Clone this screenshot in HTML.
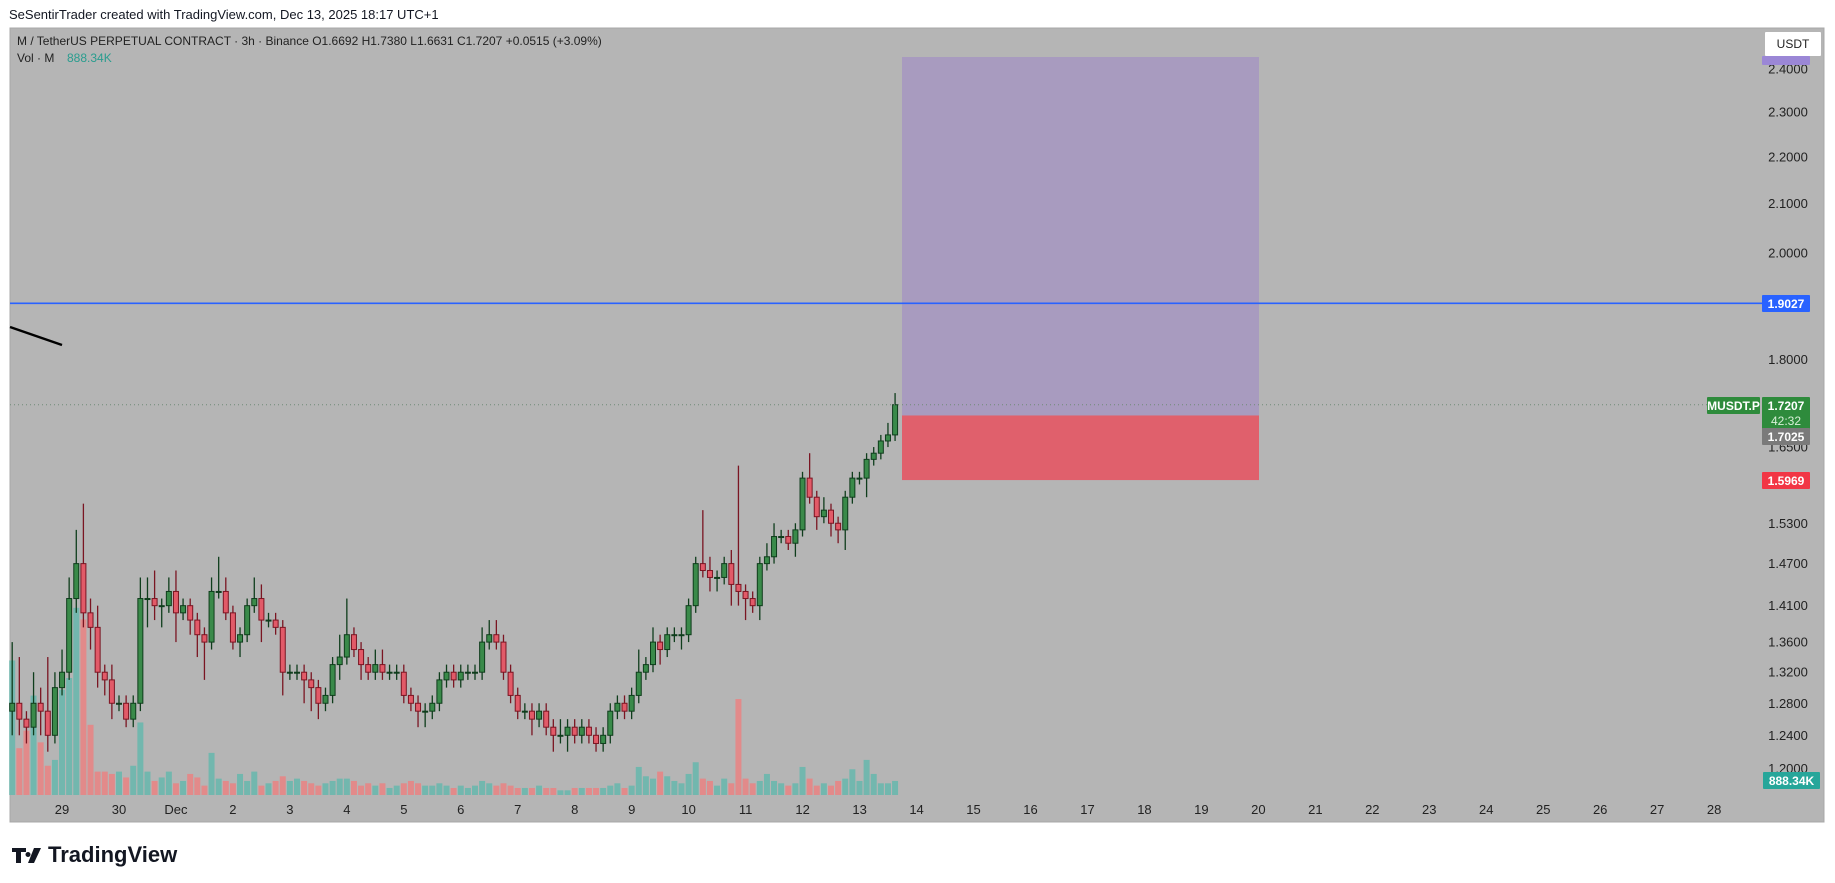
<!DOCTYPE html>
<html><head><meta charset="utf-8"><style>
body{margin:0;width:1835px;height:883px;background:#fff;overflow:hidden;font-family:"Liberation Sans",sans-serif;}
svg{position:absolute;left:0;top:0}
</style></head><body>
<svg id="c" width="1835" height="883"></svg>
<script>
const closes=[1.28,1.26,1.25,1.28,1.27,1.24,1.30,1.32,1.42,1.47,1.40,1.38,1.32,1.31,1.28,1.28,1.26,1.28,1.42,1.42,1.41,1.41,1.43,1.40,1.41,1.39,1.37,1.36,1.43,1.43,1.40,1.36,1.37,1.41,1.42,1.39,1.39,1.38,1.32,1.32,1.32,1.31,1.30,1.28,1.29,1.33,1.34,1.37,1.35,1.33,1.32,1.33,1.32,1.32,1.32,1.29,1.28,1.27,1.27,1.28,1.31,1.32,1.31,1.32,1.32,1.32,1.36,1.37,1.36,1.32,1.29,1.27,1.27,1.26,1.27,1.25,1.24,1.24,1.25,1.24,1.25,1.24,1.23,1.24,1.27,1.28,1.27,1.29,1.32,1.33,1.36,1.35,1.37,1.37,1.37,1.41,1.47,1.46,1.45,1.45,1.47,1.44,1.43,1.42,1.41,1.47,1.48,1.51,1.51,1.50,1.52,1.60,1.57,1.54,1.55,1.53,1.52,1.57,1.60,1.60,1.63,1.64,1.66,1.67,1.7207];
const highExtra=[0.08,0.06,0.01,0.04,0.02,0.07,0.02,0.03,0.03,0.05,0.09,0.02,0.03,0.01,0.02,0.01,0.01,0.01,0.03,0.03,0.04,0.01,0.02,0.03,0.01,0.01,0.01,0.01,0.02,0.05,0.02,0.01,0.01,0.01,0.03,0.02,0.01,0.01,0.01,0.01,0.01,0.01,0.01,0.01,0.01,0.01,0.03,0.05,0.01,0.01,0.01,0.02,0.02,0.01,0.01,0.01,0.01,0.01,0.01,0.01,0.01,0.01,0.01,0.01,0.01,0.01,0.02,0.02,0.02,0.01,0.01,0.01,0.01,0.01,0.01,0.01,0.01,0.02,0.01,0.01,0.01,0.01,0.01,0.01,0.01,0.01,0.01,0.01,0.03,0.01,0.02,0.01,0.01,0.01,0.01,0.01,0.01,0.08,0.02,0.01,0.01,0.02,0.18,0.01,0.01,0.01,0.02,0.02,0.01,0.01,0.01,0.01,0.04,0.01,0.02,0.01,0.01,0.01,0.01,0.01,0.01,0.01,0.01,0.02,0.02];
const lowExtra=[0.03,0.02,0.02,0.01,0.03,0.02,0.01,0.01,0.01,0.02,0.02,0.03,0.02,0.02,0.02,0.01,0.01,0.01,0.01,0.04,0.02,0.03,0.01,0.04,0.01,0.02,0.03,0.05,0.01,0.01,0.01,0.01,0.02,0.01,0.01,0.03,0.01,0.01,0.03,0.01,0.01,0.03,0.03,0.02,0.01,0.01,0.02,0.01,0.01,0.02,0.01,0.01,0.01,0.01,0.01,0.01,0.01,0.02,0.02,0.01,0.01,0.01,0.01,0.01,0.01,0.01,0.01,0.01,0.01,0.01,0.01,0.01,0.01,0.02,0.01,0.01,0.02,0.01,0.02,0.01,0.01,0.01,0.01,0.01,0.01,0.01,0.01,0.01,0.01,0.01,0.01,0.02,0.01,0.01,0.02,0.01,0.01,0.01,0.02,0.02,0.01,0.03,0.02,0.03,0.01,0.02,0.01,0.01,0.01,0.01,0.02,0.01,0.01,0.02,0.01,0.02,0.02,0.03,0.01,0.01,0.03,0.01,0.01,0.01,0.01];
const volumes=[115,40,55,85,45,25,30,90,100,160,150,60,20,20,18,20,15,25,62,20,12,15,20,10,12,18,15,8,36,14,12,10,18,12,20,8,10,12,16,12,14,12,10,8,10,12,14,14,12,8,10,8,10,6,8,10,12,10,8,8,10,8,6,8,6,8,12,10,8,10,8,6,6,6,8,6,6,4,4,6,6,6,6,6,8,10,6,8,24,16,14,20,16,12,10,18,28,14,12,8,14,10,82,14,10,12,18,12,10,8,10,24,14,8,10,8,12,14,22,12,30,18,10,10,12];
const priceTicks=[2.4,2.3,2.2,2.1,2.0,1.8,1.65,1.53,1.47,1.41,1.36,1.32,1.28,1.24,1.20];
const dayLabels=["29","30","Dec","2","3","4","5","6","7","8","9","10","11","12","13","14","15","16","17","18","19","20","21","22","23","24","25","26","27","28"];
const openPrice=1.27;
const hline=1.9027, entry=1.7025, stop=1.5969, target=2.4287;

const NS="http://www.w3.org/2000/svg", svg=document.getElementById('c');
function el(t,a,txt){const e=document.createElementNS(NS,t);for(const k in a)e.setAttribute(k,a[k]);if(txt!=null)e.textContent=txt;svg.appendChild(e);return e;}
const Y=p=>69+(Math.log(2.4)-Math.log(p))*1009;
const X=i=>12.2+i*7.12;
const volY=v=>795-v*1.17;

let e;
e=el('text',{x:9,y:19,'font-size':13,fill:'#131722'},'SeSentirTrader created with TradingView.com, Dec 13, 2025 18:17 UTC+1');

e=el('rect',{x:10,y:28,width:1814,height:794,fill:'#b5b5b5',stroke:'#a8a8a8'});

e=el('text',{x:17,y:45,'font-size':12,fill:'#222'},'M / TetherUS PERPETUAL CONTRACT · 3h · Binance  O1.6692  H1.7380  L1.6631  C1.7207  +0.0515 (+3.09%)');

e=el('text',{x:17,y:62,'font-size':12,fill:'#222'},'Vol · M ');

e=el('text',{x:67,y:62,'font-size':12,fill:'#2a9d8f'},'888.34K');


e=el('rect',{x:902,y:Y(target),width:357,height:Y(entry)-Y(target),fill:'#a89bbf'});

e=el('rect',{x:902,y:Y(entry),width:357,height:Y(stop)-Y(entry),fill:'#e0606c'});


volumes.forEach((v,i)=>{const o=i?closes[i-1]:openPrice;const up=closes[i]>=o;
 const r=el('rect',{x:X(i)-3,y:volY(v),width:6,height:795-volY(v),fill:up?'#72b7ae':'#e28a8a'});
 
 });

closes.forEach((c,i)=>{const o=i?closes[i-1]:openPrice;const up=c>=o;
 const hi=Math.max(o,c)+highExtra[i],lo=Math.min(o,c)-lowExtra[i];
 const col=up?'#0f3d1c':'#7a1522';
 const w=el('line',{x1:X(i),x2:X(i),y1:Y(hi),y2:Y(lo),stroke:col,'stroke-width':1.3});
 
 
 const t=Y(Math.max(o,c)),b=Y(Math.min(o,c));
 const r=el('rect',{x:X(i)-2.5,y:t,width:5,height:Math.max(1,b-t),fill:up?'#3a8a4a':'#e25a68',stroke:col,'stroke-width':1});
 
 });

e=el('line',{x1:10,x2:1762,y1:Y(hline),y2:Y(hline),stroke:'#2962ff','stroke-width':1.6});

e=el('line',{x1:10,x2:1707,y1:Y(1.7207),y2:Y(1.7207),stroke:'#6f8a76','stroke-width':1,'stroke-dasharray':'1,3'});

e=el('line',{x1:10,y1:327,x2:62,y2:345,stroke:'#000','stroke-width':2.5});


priceTicks.forEach(p=>{const t=el('text',{x:1788,y:Y(p)+4.5,'font-size':13,fill:'#222','text-anchor':'middle'},p.toFixed(4));
 
 });
dayLabels.forEach((d,i)=>{const t=el('text',{x:62+i*56.97,y:814,'font-size':13,fill:'#222','text-anchor':'middle'},d);
 
 });

function badge(name,x,y,w,h,bg,txt,fg,sub){const r=el('rect',{x:x,y:y,width:w,height:h,fill:bg,rx:1});
 
 el('text',{x:x+w/2,y:y+13,'font-size':12,'font-weight':'bold',fill:fg,'text-anchor':'middle'},txt);
 if(sub)el('text',{x:x+w/2,y:y+28,'font-size':12,fill:'#d8f0d8','text-anchor':'middle'},sub);}
badge('target-price-label',1762,56,48,9,'#9b87d6','','#fff');
badge('usdt-currency-button',1765,32,56,24,'#fff','','#222');
e=el('text',{x:1793,y:48,'font-size':12,fill:'#222','text-anchor':'middle'},'USDT');

badge('hline-price-label',1762,295,48,17,'#2962ff','1.9027','#fff');
badge('symbol-label',1707,397,53,17,'#2e8b3c','MUSDT.P','#fff');
badge('last-price-label',1762,397,48,32,'#2e8b3c','1.7207','#fff','42:32');
badge('entry-price-label',1762,428,48,17,'#7a7a7a','1.7025','#fff');
badge('stop-price-label',1762,472,48,17,'#f23645','1.5969','#fff');
badge('volume-value-label',1763,772,57,17,'#26a69a','888.34K','#fff');

e=el('text',{x:48,y:862,'font-size':22,'font-weight':'bold',fill:'#131722'},'TradingView');

e=el('path',{d:'M12 848h14v4h-5v11h-5v-11h-4zM28 852a2.5 2.5 0 1 0 0.01 0zM34 848h7l-7 15h-6z',fill:'#131722'});

</script>
</body></html>
